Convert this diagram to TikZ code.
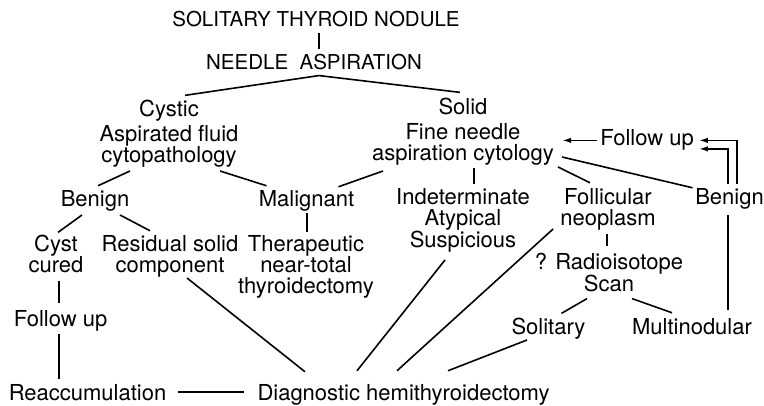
\documentclass[tikz,border=0pt]{standalone}
\usepackage{fontspec}
\setmainfont{TeX Gyre Heros}
\usetikzlibrary{arrows.meta,calc}

\tikzset{
  lbl/.style={inner sep=3pt, anchor=base, align=center, font=\fontsize{22}{21}\selectfont},
  head/.style={lbl, font=\fontsize{20.5}{21}\selectfont},
  conn/.style={line width=1.6pt},
  fwd/.style={conn, -{Latex[length=9pt,width=5.5pt]}}
}

\begin{document}
\begin{tikzpicture}[x=1pt,y=-1pt]
  \useasboundingbox (0,0) rectangle (764,406);
  % top of the tree (multi-line nodes sit on their last line)
  \node[head] at (316,27) (nodule) {SOLITARY THYROID NODULE};
  \node[head] at (314,70) (needle) {NEEDLE\ \ ASPIRATION};
  \node[lbl] at (169,163) (cystic) {Cystic\\[4pt]Aspirated fluid\\cytopathology};
  \node[lbl] at (463,161) (solid) {Solid\\[4pt]Fine needle\\aspiration cytology};
  % cystic side
  \node[lbl] at (95,207) (lbenign) {Benign};
  \node[lbl] at (306.5,207) (malig) {Malignant};
  \node[lbl] at (56,273) (cyst) {Cyst\\cured};
  \node[lbl] at (170,273) (resid) {Residual solid\\component};
  \node[lbl] at (306,294) (thera) {Therapeutic\\near-total\\thyroidectomy};
  \node[lbl] at (60.5,327) (lfollow) {Follow up};
  \node[lbl] at (87.5,400) (reacc) {Reaccumulation};
  \node[lbl] at (403.5,400) (diag) {Diagnostic hemithyroidectomy};
  % solid side
  \node[lbl] at (647,146) (rfollow) {Follow up};
  \node[lbl] at (729.5,205) (rbenign) {Benign};
  \node[lbl] at (463,248) (indet) {Indeterminate\\Atypical\\Suspicious};
  \node[lbl] at (608,226) (follic) {Follicular\\neoplasm};
  \node[lbl] at (609,292) (scan) {? Radioisotope\\Scan};
  \node[lbl] at (548.5,335) (solit) {Solitary};
  \node[lbl] at (692,335) (multi) {Multinodular};

  \draw[conn] ($(nodule.south)+(3,2)$) -- ($(needle.north)+(5,-2)$);
  \draw[conn] ($(cystic.north)+(16,-2)$) -- ($(needle.south)+(5,2)$) -- ($(solid.north)+(-3,-3)$);
  \draw[conn] ($(cystic.south)+(-39,0)$) -- ($(lbenign.north)+(3,-2)$);
  \draw[conn] ($(cystic.south)+(51,0)$) -- ($(malig.north)+(-40,-2)$);
  \draw[conn] ($(solid.south)+(-80,2)$) -- ($(malig.north)+(32,-1)$);
  \draw[conn] ($(solid.south)+(11,-1)$) -- ($(indet.north)+(11,-2)$);
  \draw[conn] ($(solid.south)+(95,-2)$) -- ($(follic.north)+(-18,-3)$);
  \draw[conn] ($(solid.south)+(99,-12)$) -- ($(rbenign.north)+(-37,2)$);
  \draw[fwd] (rfollow.west) -- ($(rfollow.west -| solid.east)+(5,0)$);
  \draw[fwd] ($(rbenign.north)+(7.5,-2)$) |- ($(rfollow.east)+(2,0)$);
  \draw[fwd] ($(rbenign.north)+(-1.5,-2)$) |- ($(rfollow.east)+(2,8.5)$);
  \draw[conn] ($(rbenign.south)+(-1.5,2)$) -- ($(multi.north -| rbenign.south)+(-1.5,-6)$);
  \draw[conn] ($(follic.south)+(-1,0)$) -- ($(scan.north)+(-2,-4)$);
  \draw[conn] ($(scan.south)+(-22,3)$) -- ($(solit.north)+(13,-2)$);
  \draw[conn] ($(scan.south)+(23,3)$) -- ($(multi.north)+(-20,-3)$);
  \draw[conn] ($(solit.south)+(-21.5,-3)$) -- ($(diag.north)+(44.5,-10)$);
  \draw[conn] ($(follic.south west)+(-4,-5)$) -- ($(diag.north)+(-6.5,-10)$);
  \draw[conn] ($(indet.south)+(-18,4)$) -- ($(diag.north)+(-46.5,-10)$);
  \draw[conn] ($(resid.south)+(17,-3)$) -- ($(diag.north)+(-98.5,-9)$);
  \draw[conn] ($(lbenign.south)+(-13,0)$) -- ($(cyst.north)+(2,0)$);
  \draw[conn] ($(lbenign.south)+(25,0)$) -- ($(resid.north)+(-20,-2)$);
  \draw[conn] ($(cyst.south)+(3,4)$) -- ($(lfollow.north)+(-1.5,-5)$);
  \draw[conn] ($(lfollow.south)+(-1.5,-1)$) -- ($(reacc.north)+(-28.5,-2)$);
  \draw[conn] ($(malig.south)+(0.5,-2)$) -- ($(thera.north)+(1,-1)$);
  \draw[conn] ($(reacc.east)+(9,0)$) -- ($(reacc.east -| diag.west)+(-10,0)$);
\end{tikzpicture}
\end{document}
